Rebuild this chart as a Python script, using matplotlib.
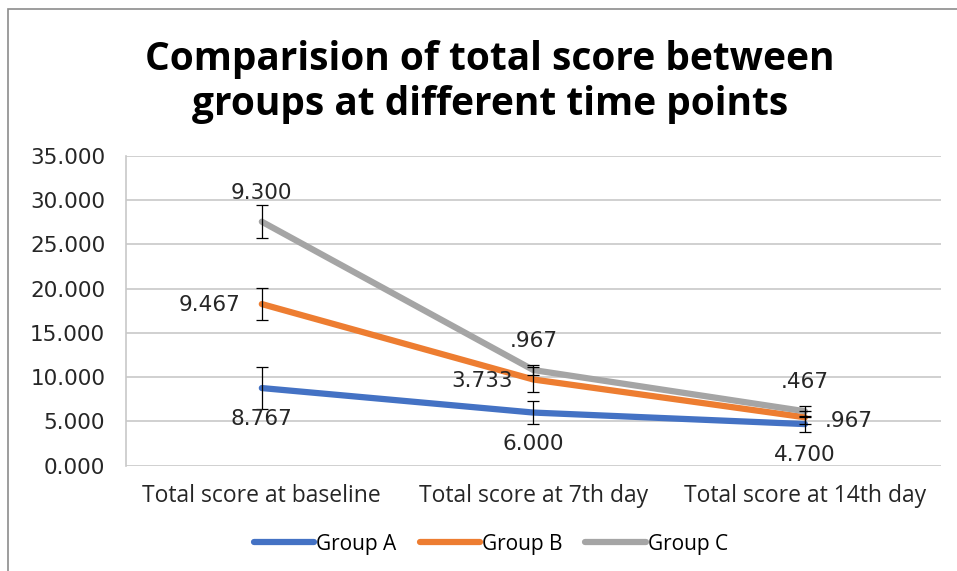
import numpy as np
import matplotlib.pyplot as plt
from matplotlib.patches import Rectangle

# time points
categories = ['Total score at baseline', 'Total score at 7th day', 'Total score at 14th day']

# mean scores per group
group_a = [8.767, 6.000, 4.700]
group_b = [18.25, 9.733, 5.467]
group_c = [27.55, 10.8, 6.15]

# error bar (SD) per group
err_a = [2.35, 1.25, 0.95]
err_b = [1.85, 1.45, 0.75]
err_c = [1.85, 0.6, 0.6]

# data labels as they appear in the chart
lab_a = ['8.767', '6.000', '4.700']
lab_b = ['9.467', '3.733', '.967']
lab_c = ['9.300', '.967', '.467']

blue = '#4472c4'
orange = '#ed7d31'
gray = '#a5a5a5'

plt.rcParams['font.family'] = ['DejaVu Sans']
narrow = ['Open Sans']

fig = plt.figure(figsize=(9.57, 5.71), dpi=100)
ax = fig.add_axes([0.1317, 0.1844, 0.8513, 0.5429])

x = np.arange(len(categories))

for vals, errs, col, name in [(group_a, err_a, blue, 'Group A'),
                              (group_b, err_b, orange, 'Group B'),
                              (group_c, err_c, gray, 'Group C')]:
    ax.plot(x, vals, color=col, lw=4.5, solid_capstyle='round', label=name, zorder=3)
    ax.errorbar(x, vals, yerr=errs, fmt='none', ecolor='black', elinewidth=0.9,
                capsize=4, capthick=0.9, zorder=4)

lab_kw = dict(fontsize=15.5, color='#262626', zorder=5, textcoords='offset pixels')
# group A labels below the point
for i, t in enumerate(lab_a):
    ax.annotate(t, (x[i], group_a[i]), xytext=(0, -31), ha='center', va='center', **lab_kw)
# group B labels left (last one right)
for i, t in enumerate(lab_b):
    if i == 2:
        ax.annotate(t, (x[i], group_b[i]), xytext=(20, -4), ha='left', va='center', **lab_kw)
    else:
        ax.annotate(t, (x[i], group_b[i]), xytext=(-21, -1), ha='right', va='center', **lab_kw)
# group C labels above the point
for i, t in enumerate(lab_c):
    ax.annotate(t, (x[i], group_c[i]), xytext=(0, 29), ha='center', va='center', **lab_kw)

ax.set_xlim(-0.5, 2.5)
ax.set_ylim(0, 35)
ax.set_yticks(np.arange(0, 36, 5))
ax.set_yticklabels(['%.3f' % v for v in np.arange(0, 36, 5)], fontsize=15.5, color='#262626')
ax.set_xticks(x)
ax.set_xticklabels(categories, fontsize=16.5, color='#262626', family=narrow)
ax.tick_params(length=0)
ax.tick_params(axis='y', pad=15)
ax.tick_params(axis='x', pad=13)
ax.grid(axis='y', color='#c8c8c8', lw=1.2)
ax.set_axisbelow(True)
for s in ['top', 'right', 'bottom']:
    ax.spines[s].set_visible(False)
ax.spines['left'].set_color('#c8c8c8')
ax.spines['left'].set_linewidth(1.2)

fig.text(0.512, 0.856, 'Comparision of total score between\ngroups at different time points',
         ha='center', va='center', fontsize=28, fontweight='bold', family='Open Sans',
         linespacing=1.2)

fig.legend(loc='center', bbox_to_anchor=(0.513, 0.047), ncol=3, frameon=False,
           prop={'family': narrow, 'size': 15}, handlelength=2.9,
           handletextpad=0.1, columnspacing=1.1)

# chart border
fig.patches.append(Rectangle((0.008, -0.01), 1.1, 0.995, transform=fig.transFigure,
                             fill=False, ec='#8c8c8c', lw=1.2))

fig.savefig('out.png', dpi=100)
